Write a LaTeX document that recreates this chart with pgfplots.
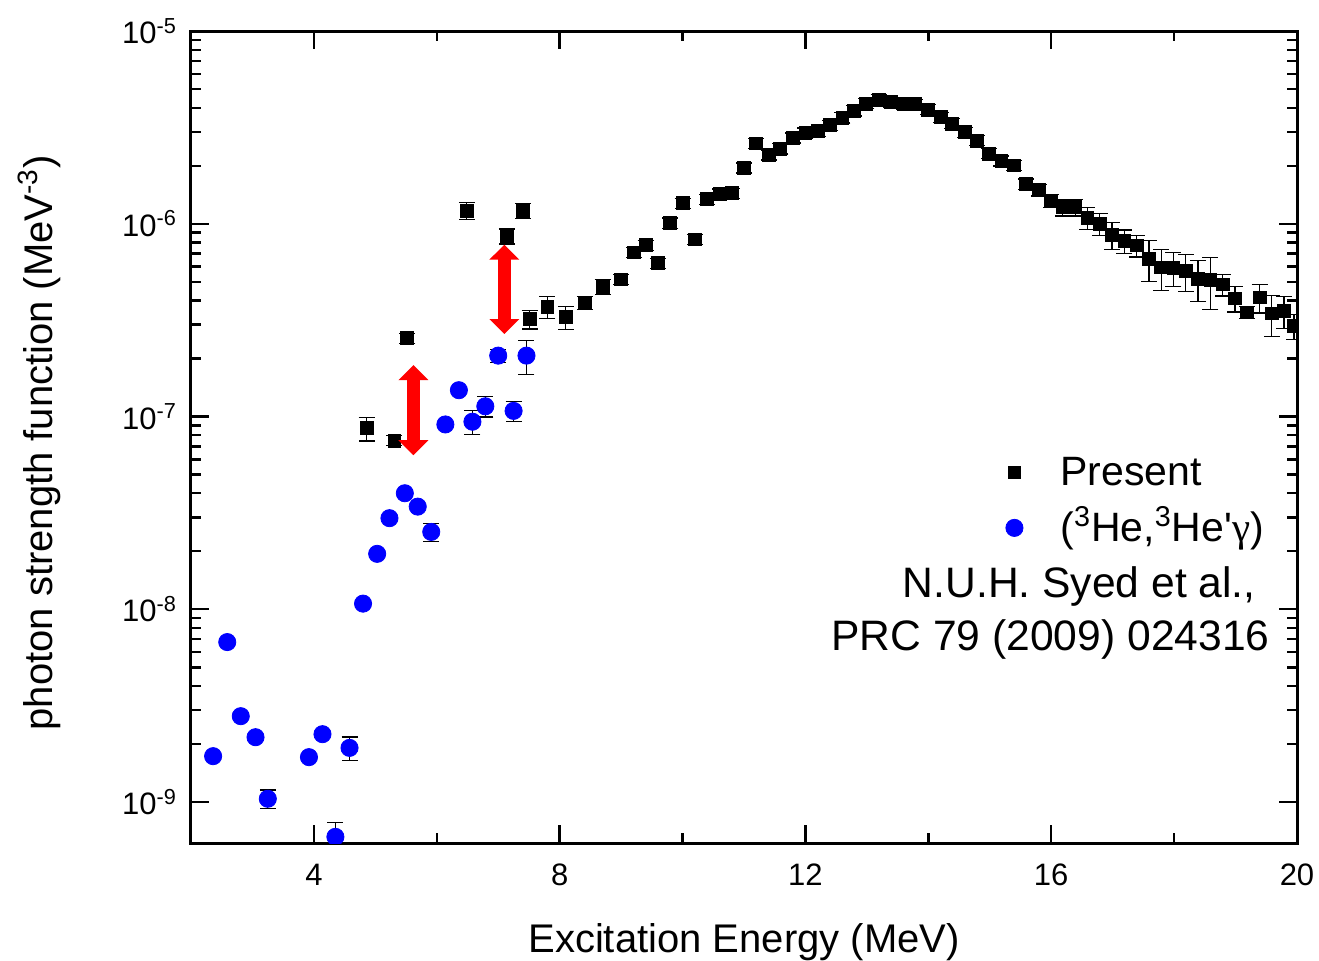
\documentclass[border=0pt]{standalone}
\usepackage{pgfplots}
\pgfplotsset{compat=1.18}
\usepackage{pgfplotstable}
\usepackage{fontspec}
\setmainfont{Liberation Sans}
\newfontfamily\gammafont{Liberation Serif}
\usetikzlibrary{arrows.meta}

\pgfplotstableread{
x y r
4.86 8.69e-8 0.14
5.31 7.5e-8 0.06
5.52 2.55e-7 0.06
6.49 1.17e-6 0.10
7.14 8.63e-7 0.09
7.40 1.17e-6 0.09
7.51 3.2e-7 0.11
7.80 3.7e-7 0.13
8.10 3.28e-7 0.14
8.41 3.9e-7 0.08
8.70 4.7e-7 0.09
9.00 5.15e-7 0.06
9.21 7.1e-7 0.06
9.40 7.76e-7 0.06
9.60 6.24e-7 0.06
9.80 1.01e-6 0.06
10.00 1.28e-6 0.06
10.20 8.3e-7 0.06
10.40 1.34e-6 0.06
10.61 1.43e-6 0.06
10.80 1.44e-6 0.06
11.00 1.95e-6 0.06
11.20 2.61e-6 0.06
11.40 2.28e-6 0.06
11.59 2.45e-6 0.06
11.80 2.79e-6 0.06
12.00 2.96e-6 0.06
12.20 3.03e-6 0.06
12.40 3.25e-6 0.06
12.60 3.55e-6 0.06
12.79 3.86e-6 0.06
12.99 4.2e-6 0.06
13.19 4.4e-6 0.06
13.39 4.28e-6 0.06
13.60 4.17e-6 0.06
13.79 4.17e-6 0.06
13.99 3.91e-6 0.06
14.20 3.58e-6 0.06
14.39 3.31e-6 0.06
14.59 2.99e-6 0.06
14.79 2.70e-6 0.06
14.99 2.31e-6 0.06
15.19 2.12e-6 0.06
15.39 2.01e-6 0.06
15.59 1.61e-6 0.06
15.80 1.50e-6 0.07
15.99 1.32e-6 0.08
16.19 1.22e-6 0.10
16.39 1.22e-6 0.10
16.59 1.07e-6 0.13
16.79 9.97e-7 0.13
16.99 8.78e-7 0.16
17.19 8.14e-7 0.14
17.39 7.73e-7 0.13
17.59 6.59e-7 0.24
17.79 5.94e-7 0.24
17.99 5.93e-7 0.20
18.19 5.70e-7 0.22
18.39 5.19e-7 0.24
18.59 5.13e-7 0.30
18.79 4.85e-7 0.13
18.99 4.10e-7 0.15
19.19 3.47e-7 0.07
19.39 4.15e-7 0.17
19.59 3.43e-7 0.24
19.79 3.52e-7 0.19
19.95 2.95e-7 0.15
}\present

\pgfplotstableread{
x y r
2.36 1.73e-9 0
2.59 6.76e-9 0
2.81 2.79e-9 0
3.05 2.17e-9 0
3.25 1.04e-9 0.11
3.92 1.71e-9 0
4.14 2.25e-9 0
4.35 6.6e-10 0.19
4.58 1.91e-9 0.14
4.80 1.07e-8 0
5.03 1.94e-8 0
5.23 2.97e-8 0
5.48 4.0e-8 0
5.69 3.41e-8 0
5.91 2.52e-8 0.11
6.14 9.1e-8 0
6.36 1.37e-7 0
6.58 9.4e-8 0.14
6.79 1.13e-7 0.12
7.00 2.07e-7 0.08
7.25 1.07e-7 0.12
7.46 2.07e-7 0.2
}\helium

\definecolor{myblue}{RGB}{0,0,255}
\definecolor{myred}{RGB}{255,0,0}

\begin{document}
\begin{tikzpicture}
\path[use as bounding box] (-95.5pt,-58.5pt) rectangle (564pt,421.5pt);
\begin{axis}[
  scale only axis, width=553pt, height=406pt,
  xmin=2, xmax=20, ymode=log, ymin=6.13e-10, ymax=1e-5,
  xtick={4,8,12,16,20}, minor x tick num=1,
  ytick={1e-9,1e-8,1e-7,1e-6,1e-5},
  yticklabels={10\textsuperscript{-9},10\textsuperscript{-8},10\textsuperscript{-7},10\textsuperscript{-6},10\textsuperscript{-5}},
  /pgf/number format/assume math mode=true,
  tick align=inside,
  major tick length=9pt, minor tick length=5pt,
  axis line style={line width=1.5pt},
  every tick/.style={line width=1.2pt, black},
  tick label style={font=\fontsize{15.5}{18}\selectfont},
  xticklabel style={yshift=-7pt},
  yticklabel style={xshift=-3.5pt},
  clip marker paths=true,
  xlabel={Excitation Energy (MeV)},
  ylabel={photon strength function (MeV\textsuperscript{-3})},
  label style={font=\fontsize{20}{24}\selectfont},
  xlabel style={at={(axis description cs:0.5,0)}, anchor=base, yshift=-54.5pt},
  ylabel style={at={(axis description cs:-0.1248,0.493)}, anchor=base},
  legend image code/.code={\path[draw=none,fill=none] (-8pt,0pt) rectangle (8pt,12pt); \draw[#1] plot coordinates {(0pt,1.5pt)};},
  legend cell align=left,
  legend style={draw=none, fill=none, inner sep=0pt, at={(rel axis cs:0.7297,0.4828)}, anchor=north west,
    font=\fontsize{20.5}{24}\selectfont, row sep=4pt, column sep=13pt,
    nodes={inner sep=2pt, text height=15pt, text depth=4.5pt}},
]
\addplot[only marks, mark=square*, mark size=3.2pt, black,
  error bars/.cd, y dir=both, y explicit,
  error bar style={line width=0.6pt, black},
  error mark options={rotate=90, mark size=4pt, line width=0.6pt, black}]
  table[x=x, y=y, y error expr=\thisrow{y}*\thisrow{r}] {\present};
\addlegendentry{Present}
\addplot[only marks, mark=*, mark size=4.3pt, myblue, mark options={fill=myblue, draw=myblue},
  error bars/.cd, y dir=both, y explicit,
  error bar style={line width=0.6pt, black},
  error mark options={rotate=90, mark size=4pt, line width=0.6pt, black}]
  table[x=x, y=y, y error expr=\thisrow{y}*\thisrow{r}] {\helium};
\addlegendentry{(\textsuperscript{3}He,\textsuperscript{3}He\textquotesingle{\gammafont γ})}
\addplot[forget plot, myred, line width=6.5pt, {Triangle[width=14.5pt,length=7.5pt]}-{Triangle[width=14.5pt,length=7.5pt]}]
  coordinates {(5.62,1.85e-7) (5.62,6.3e-8)};
\addplot[forget plot, myred, line width=6.5pt, {Triangle[width=14.5pt,length=7.5pt]}-{Triangle[width=14.5pt,length=7.5pt]}]
  coordinates {(7.10,7.8e-7) (7.10,2.68e-7)};
\node[anchor=base east, inner sep=0pt, font=\fontsize{21.3}{24}\selectfont] at (rel axis cs:0.9629,0.302) {N.U.H. Syed et al.,};
\node[anchor=base east, inner sep=0pt, font=\fontsize{21.3}{24}\selectfont] at (rel axis cs:0.9756,0.2377) {PRC 79 (2009) 024316};
\end{axis}
\end{tikzpicture}
\end{document}
